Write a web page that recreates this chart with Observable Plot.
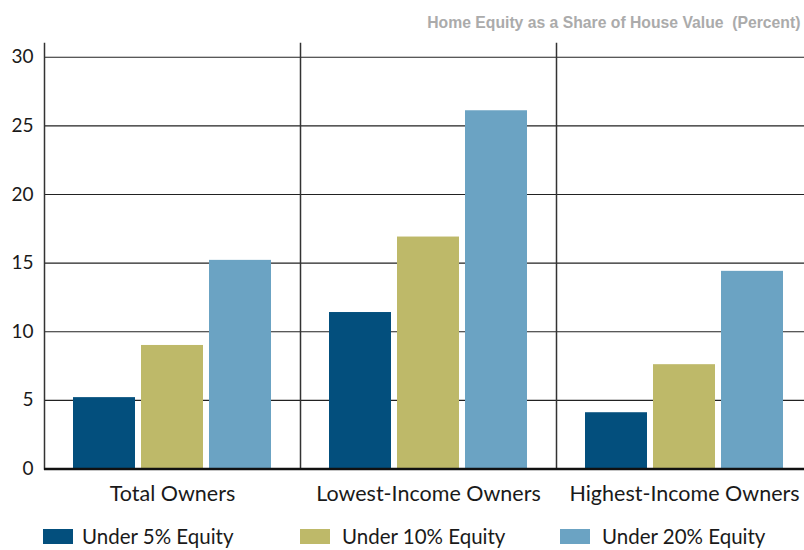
<!DOCTYPE html>
<html>
<head>
<meta charset="utf-8">
<script src="https://cdn.jsdelivr.net/npm/d3@7"></script>
<script src="https://cdn.jsdelivr.net/npm/@observablehq/plot@0.6"></script>
<style>
  body { margin: 0; background: #fff; }
  #wrap { width: 804px; height: 550px; overflow: hidden; position: relative; font-family: Lato, sans-serif; }
  #title { height: 40px; text-align: right; padding-right: 4px; line-height: 44px; }
  #title span { display: inline-block; transform: scaleX(0.925); transform-origin: right center; font-family: "Liberation Sans", Arial, sans-serif; font-weight: bold; font-size: 17px; color: #ababab; white-space: pre; }
  #legend { display: flex; margin-left: 43px; margin-top: 15px; }
  .item { display: flex; align-items: center; font-size: 20.5px; color: #1a1a1a; line-height: 22px; }
  .item:nth-child(1) { width: 257px; }
  .item:nth-child(2) { width: 260px; }
  .item:nth-child(3) { width: 240px; }
  .sw { width: 30px; height: 15px; margin-right: 12px; flex: none; }
  .item:nth-child(1) .sw { margin-right: 9px; }
</style>
</head>
<body>
<div id="wrap">
  <div id="title"><span></span></div>
  <div id="chart"></div>
  <div id="legend"></div>
</div>
<script>
const titleText = "Home Equity as a Share of House Value  (Percent)";
const groups = ["Total Owners", "Lowest-Income Owners", "Highest-Income Owners"];
const series = ["Under 5% Equity", "Under 10% Equity", "Under 20% Equity"];
const colors = ["#034f7d", "#beb969", "#6ba3c3"];
const under5 = [5.2, 11.4, 4.1];
const under10 = [9.0, 16.9, 7.6];
const under20 = [15.2, 26.1, 14.4];
const yTicks = [0, 5, 10, 15, 20, 25, 30];

const values = [under5, under10, under20];
const rows = [];
groups.forEach((g, gi) => series.forEach((s, si) => rows.push({group: g, series: s, value: values[si][gi]})));

document.querySelector("#title span").textContent = titleText;

const chart = Plot.plot({
  width: 812,
  height: 470,
  marginLeft: 44,
  marginRight: 0,
  marginTop: 3,
  marginBottom: 41.5,
  style: {fontFamily: "Lato, sans-serif", fontSize: "20px", color: "#1a1a1a", background: "transparent", maxWidth: "none"},
  fx: {domain: groups, padding: 0, label: null},
  x: {domain: series, paddingInner: 0.095, paddingOuter: 0.416, axis: null},
  y: {domain: [0, 31], label: null},
  color: {domain: series, range: colors},
  marks: [
    Plot.gridY(yTicks, {stroke: "#222", strokeOpacity: 1, strokeWidth: 1.2}),
    Plot.frame({anchor: "left", stroke: "#333", strokeWidth: 1.5}),
    Plot.barY(rows, {fx: "group", x: "series", y: "value", fill: "series"}),
    Plot.ruleY([0], {stroke: "#111", strokeWidth: 2.5}),
    Plot.axisY(yTicks, {tickSize: 0, tickPadding: 11, fontSize: 19, line: true, stroke: "#111", strokeWidth: 2.5}),
    Plot.axisFx({anchor: "bottom", tickSize: 0, tickPadding: 17, label: null, fontSize: 21.5})
  ]
});
document.getElementById("chart").appendChild(chart);

const legend = document.getElementById("legend");
series.forEach((s, i) => {
  const item = document.createElement("div");
  item.className = "item";
  const sw = document.createElement("span");
  sw.className = "sw";
  sw.style.background = colors[i];
  const t = document.createElement("span");
  t.textContent = s;
  item.appendChild(sw);
  item.appendChild(t);
  legend.appendChild(item);
});
</script>
</body>
</html>
